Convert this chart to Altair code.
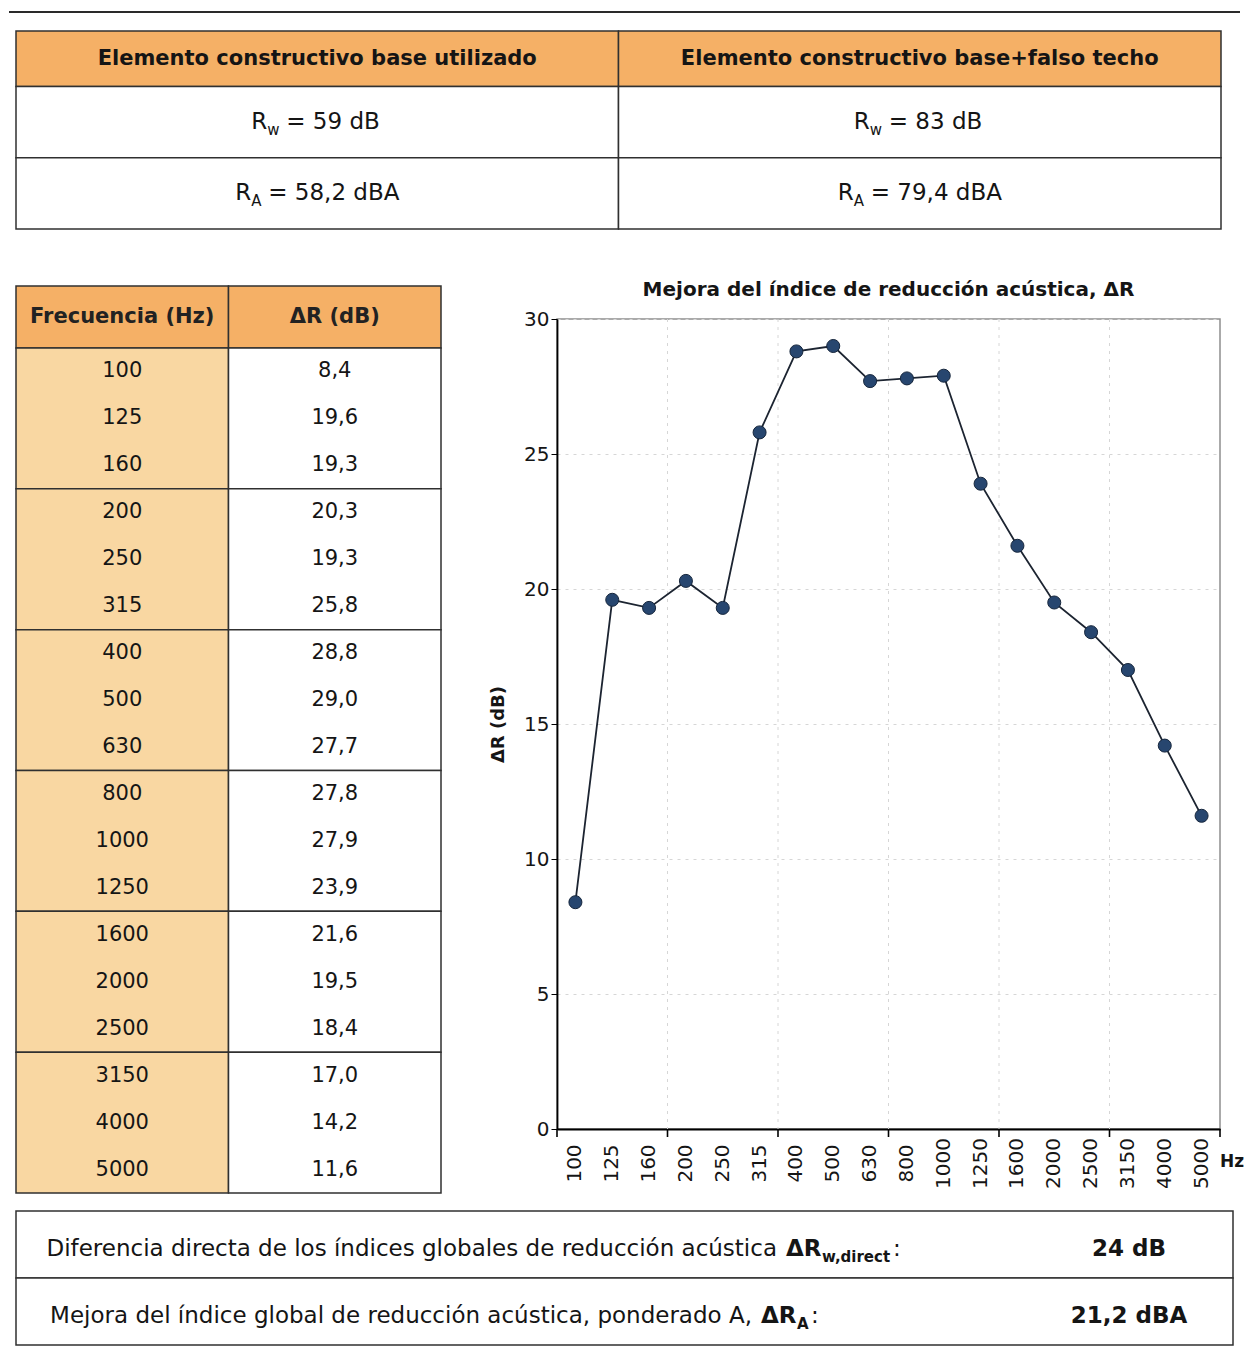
import altair as alt
import pandas as pd

# ---------------- data ----------------
FREQS = ["100", "125", "160", "200", "250", "315", "400", "500", "630", "800",
         "1000", "1250", "1600", "2000", "2500", "3150", "4000", "5000"]
DELTA_R = [8.4, 19.6, 19.3, 20.3, 19.3, 25.8, 28.8, 29.0, 27.7, 27.8,
           27.9, 23.9, 21.6, 19.5, 18.4, 17.0, 14.2, 11.6]
TOP_HEADERS = ["Elemento constructivo base utilizado",
               "Elemento constructivo base+falso techo"]
RW_VALUES = ["= 59 dB", "= 83 dB"]
RA_VALUES = ["= 58,2 dBA", "= 79,4 dBA"]
TABLE_HEADERS = ["Frecuencia (Hz)", "ΔR (dB)"]
CHART_TITLE = "Mejora del índice de reducción acústica, ΔR"
Y_TITLE = "ΔR (dB)"
Y_TICKS = [0, 5, 10, 15, 20, 25, 30]
GRID_BOUNDARIES = ["200", "400", "800", "1600", "3150"]
TICK_BOUNDARIES = ["100", "200", "400", "800", "1600", "3150"]
SUMMARY_LABELS = ["Diferencia directa de los índices globales de reducción acústica",
                  "Mejora del índice global de reducción acústica, ponderado A,"]
SUMMARY_SUBS = ["w,direct", "A"]
SUMMARY_VALUES = ["24 dB", "21,2 dBA"]

FONT = "DejaVu Sans"
ORANGE = "#F5B066"
PALE = "#F9D7A2"
BORDER = "#303030"
TXT = "#151515"

# ---------------- top table ----------------
TOP_W, TOP_H = 1205, 198
row_bounds = [(0.0, 0.78), (0.78, 1.78), (1.78, 2.78)]
cells = []
for c in range(2):
    for r, (a, b) in enumerate(row_bounds):
        cells.append(dict(x0=c, x1=c + 1, y0=a, y1=b, fill=ORANGE if r == 0 else "white"))
top_cells = pd.DataFrame(cells)
xs_top = alt.Scale(domain=[0, 2], nice=False, zero=False)
ys_top = alt.Scale(domain=[0, 2.78], reverse=True, nice=False, zero=False)

page_line = alt.Chart(pd.DataFrame({"k": [0]})).mark_rule(color="#2a2a2a", strokeWidth=2).encode(
    x=alt.value(-7), x2=alt.value(TOP_W + 19), y=alt.value(-19))
top_rect = alt.Chart(top_cells).mark_rect(stroke=BORDER, strokeWidth=1.5).encode(
    x=alt.X("x0:Q", scale=xs_top, axis=None), x2="x1",
    y=alt.Y("y0:Q", scale=ys_top, axis=None), y2="y1",
    fill=alt.Fill("fill:N", scale=None),
)
top_head = alt.Chart(pd.DataFrame({"xc": [0.5, 1.5], "yc": [0.39, 0.39], "t": TOP_HEADERS})).mark_text(
    font=FONT, fontSize=21, fontWeight="bold", color=TXT, baseline="middle"
).encode(x=alt.X("xc:Q", scale=xs_top, axis=None), y=alt.Y("yc:Q", scale=ys_top, axis=None), text="t:N")


def r_row(yc, sub, rest, r_dx, rest_dx):
    d = pd.DataFrame({"xc": [0.5, 1.5], "yc": [yc, yc], "base": ["R", "R"], "sub": [sub, sub], "rest": rest})
    enc = dict(x=alt.X("xc:Q", scale=xs_top, axis=None), y=alt.Y("yc:Q", scale=ys_top, axis=None))
    a = alt.Chart(d).mark_text(font=FONT, fontSize=23, color=TXT, align="right", baseline="middle", dx=r_dx).encode(text="base:N", **enc)
    b = alt.Chart(d).mark_text(font=FONT, fontSize=15, color=TXT, align="left", baseline="middle", dx=r_dx, dy=8).encode(text="sub:N", **enc)
    c = alt.Chart(d).mark_text(font=FONT, fontSize=23, color=TXT, align="left", baseline="middle", dx=rest_dx).encode(text="rest:N", **enc)
    return [a, b, c]


top_table = alt.layer(
    page_line, top_rect, top_head,
    *r_row(1.28, "w", RW_VALUES, -50, -31),
    *r_row(2.28, "A", RA_VALUES, -66, -49),
).properties(width=TOP_W, height=TOP_H)

# ---------------- left frequency table ----------------
LT_W, LT_H = 425, 874
HEAD_U = 1.32
xs_lt = alt.Scale(domain=[0, 2], nice=False, zero=False)
ys_lt = alt.Scale(domain=[-HEAD_U, 18], range=[-33, LT_H], nice=False, zero=False)

lt_cells = []
for c in range(2):
    lt_cells.append(dict(x0=c, x1=c + 1, y0=-HEAD_U, y1=0, fill=ORANGE))
    for g in range(6):
        lt_cells.append(dict(x0=c, x1=c + 1, y0=3 * g, y1=3 * g + 3, fill=PALE if c == 0 else "white"))
lt_cells = pd.DataFrame(lt_cells)
lt_rect = alt.Chart(lt_cells).mark_rect(stroke=BORDER, strokeWidth=1.5).encode(
    x=alt.X("x0:Q", scale=xs_lt, axis=None), x2="x1",
    y=alt.Y("y0:Q", scale=ys_lt, axis=None), y2="y1",
    fill=alt.Fill("fill:N", scale=None),
)
lt_head = alt.Chart(pd.DataFrame({"xc": [0.5, 1.5], "yc": [-HEAD_U / 2] * 2, "t": TABLE_HEADERS})).mark_text(
    font=FONT, fontSize=21, fontWeight="bold", color="#222", baseline="middle"
).encode(x=alt.X("xc:Q", scale=xs_lt, axis=None), y=alt.Y("yc:Q", scale=ys_lt, axis=None), text="t:N")

body = pd.DataFrame({
    "yc": [i + 0.5 for i in range(len(FREQS))],
    "freq": FREQS,
    "val": [f"{v:.1f}".replace(".", ",") for v in DELTA_R],
})
lt_freq = alt.Chart(body).mark_text(font=FONT, fontSize=21, color=TXT, baseline="middle").encode(
    x=alt.value(LT_W * 0.25), y=alt.Y("yc:Q", scale=ys_lt, axis=None), text="freq:N")
lt_val = alt.Chart(body).mark_text(font=FONT, fontSize=21, color=TXT, baseline="middle").encode(
    x=alt.value(LT_W * 0.75), y=alt.Y("yc:Q", scale=ys_lt, axis=None), text="val:N")
left_table = alt.layer(lt_rect, lt_head, lt_freq, lt_val).properties(width=LT_W, height=LT_H)

# ---------------- line chart ----------------
LC_W, LC_H = 663, 810
df = pd.DataFrame({"freq": FREQS, "dr": DELTA_R})
xscale = alt.Scale(type="band", domain=FREQS, paddingInner=0, paddingOuter=0)
yscale = alt.Scale(domain=[0, 30], nice=False, zero=True)
x_axis = alt.Axis(title=None, labelAngle=270, ticks=False, labelFont=FONT, labelFontSize=20,
                  labelColor=TXT, labelPadding=34, labelAlign="center", labelBaseline="middle",
                  labelOverlap=False, domainColor="black", domainWidth=1.8, grid=False)
y_axis = alt.Axis(values=Y_TICKS, title=Y_TITLE, titleFont=FONT, titleFontSize=18, titleFontWeight="bold",
                  titleColor=TXT, titlePadding=16, labelFont=FONT, labelFontSize=20, labelColor=TXT,
                  tickColor="black", tickSize=6, domainColor="black", domainWidth=1.8,
                  grid=True, gridColor="#d6d6d6", gridDash=[3, 5])


def xenc(bp):
    return alt.X("freq:N", scale=xscale, sort=FREQS, bandPosition=bp, axis=x_axis)


vgrid = alt.Chart(pd.DataFrame({"freq": GRID_BOUNDARIES})).mark_rule(
    color="#d6d6d6", strokeDash=[3, 5], strokeWidth=1).encode(
    x=xenc(0), y=alt.value(0), y2=alt.value(LC_H))
ticks_a = alt.Chart(pd.DataFrame({"freq": TICK_BOUNDARIES})).mark_rule(
    color="black", strokeWidth=1.6).encode(
    x=xenc(0), y=alt.value(LC_H), y2=alt.value(LC_H + 8))
ticks_b = alt.Chart(pd.DataFrame({"freq": [FREQS[-1]]})).mark_rule(
    color="black", strokeWidth=1.6).encode(
    x=xenc(1), y=alt.value(LC_H), y2=alt.value(LC_H + 8))
line = alt.Chart(df).mark_line(color="#1c2431", strokeWidth=1.8).encode(
    x=xenc(0.5), y=alt.Y("dr:Q", scale=yscale, axis=y_axis))
pts = alt.Chart(df).mark_circle(size=170, color="#27466f", opacity=1, stroke="#16263c", strokeWidth=1).encode(
    x=xenc(0.5), y=alt.Y("dr:Q", scale=yscale, axis=y_axis))
hz = alt.Chart(pd.DataFrame({"t": ["Hz"]})).mark_text(
    font=FONT, fontSize=17, fontWeight="bold", color=TXT, align="left", baseline="middle").encode(
    text="t:N", x=alt.value(LC_W), y=alt.value(LC_H + 33))

line_chart = alt.layer(vgrid, ticks_a, ticks_b, line, pts, hz).properties(
    width=LC_W, height=LC_H,
    title=alt.TitleParams(CHART_TITLE, font=FONT, fontSize=20, fontWeight="bold", color=TXT,
                          offset=9, anchor="middle"),
    view=alt.ViewBackground(stroke="#8f8f8f", strokeWidth=1.5),
)

middle = alt.hconcat(left_table, line_chart, spacing=46)

# ---------------- bottom summary table ----------------
BT_W, BT_H = 1217, 134
xs_bt = alt.Scale(domain=[0, 1], nice=False, zero=False)
ys_bt = alt.Scale(domain=[0, 2], reverse=True, nice=False, zero=False)
bt_cells = pd.DataFrame({"x0": [0, 0], "x1": [1, 1], "y0": [0, 1], "y1": [1, 2]})
bt_rect = alt.Chart(bt_cells).mark_rect(fill="white", stroke=BORDER, strokeWidth=1.5).encode(
    x=alt.X("x0:Q", scale=xs_bt, axis=None), x2="x1",
    y=alt.Y("y0:Q", scale=ys_bt, axis=None), y2="y1")

bt_layers = [bt_rect]
row_pos = [  # main right edge, ΔR left, sub left, colon left
    (761, 770, 806, 877),
    (736, 745, 781, 795),
]
for i in range(2):
    yc = i + 0.57
    d = pd.DataFrame({"yc": [yc], "label": [SUMMARY_LABELS[i]], "dr": ["ΔR"], "sub": [SUMMARY_SUBS[i]],
                      "colon": [":"], "val": [SUMMARY_VALUES[i]]})
    ye = alt.Y("yc:Q", scale=ys_bt, axis=None)
    m, dl, sl, cl = row_pos[i]
    ch = alt.Chart(d)
    bt_layers += [
        ch.mark_text(font=FONT, fontSize=23, color=TXT, align="right", baseline="middle").encode(
            x=alt.value(m), y=ye, text="label:N"),
        ch.mark_text(font=FONT, fontSize=23, fontWeight="bold", color=TXT, align="left", baseline="middle").encode(
            x=alt.value(dl), y=ye, text="dr:N"),
        ch.mark_text(font=FONT, fontSize=15, fontWeight="bold", color=TXT, align="left", baseline="middle", dy=8).encode(
            x=alt.value(sl), y=ye, text="sub:N"),
        ch.mark_text(font=FONT, fontSize=23, color=TXT, align="left", baseline="middle").encode(
            x=alt.value(cl), y=ye, text="colon:N"),
        ch.mark_text(font=FONT, fontSize=23, fontWeight="bold", color=TXT, align="center", baseline="middle").encode(
            x=alt.value(1113), y=ye, text="val:N"),
    ]
bottom_table = alt.layer(*bt_layers).properties(width=BT_W, height=BT_H)

upper = alt.vconcat(top_table, middle, spacing=49)
chart = alt.vconcat(upper, bottom_table, spacing=16).properties(
    padding={"left": 0, "top": 3, "right": 0, "bottom": 0}, background="white"
).configure_view(stroke=None)

chart.save("out.html", embed_options={"renderer": "svg", "actions": False})
